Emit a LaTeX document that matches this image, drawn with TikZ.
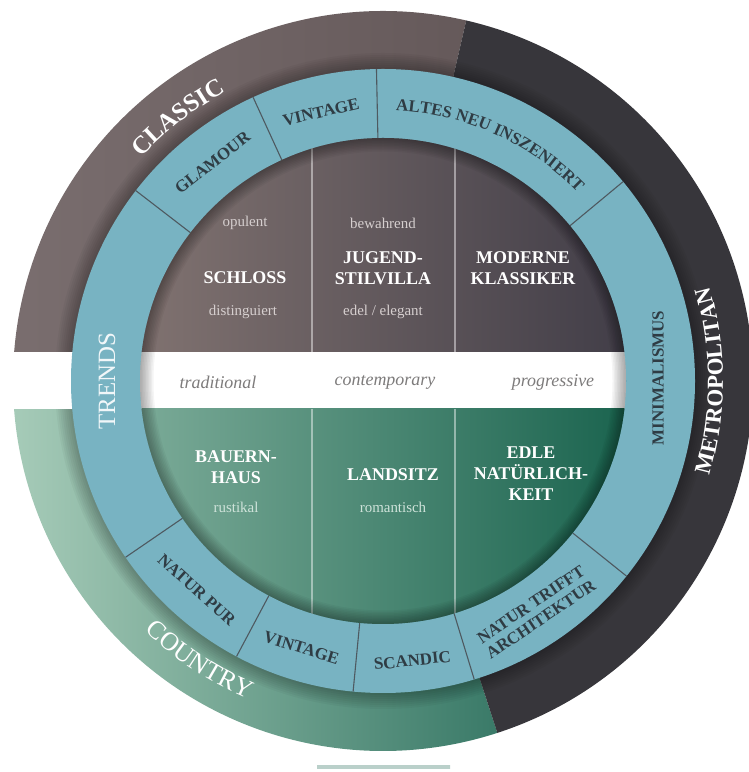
\documentclass[tikz,border=0pt]{standalone}
\usepackage{fontspec}
\setmainfont{Liberation Serif}
\usetikzlibrary{decorations.text}
\definecolor{classicbrown}{HTML}{6E6162}
\definecolor{metrodark}{HTML}{37363B}
\definecolor{trendblue}{HTML}{78B3C2}
\definecolor{countrylight}{HTML}{A6CBB8}
\definecolor{countrydark}{HTML}{3A7A68}
\definecolor{roomtopL}{HTML}{807270}
\definecolor{roomtopR}{HTML}{423E48}
\definecolor{roombotL}{HTML}{7AAA97}
\definecolor{roombotR}{HTML}{1B644F}
\definecolor{ringtext}{HTML}{2F3C44}
\definecolor{softtext}{HTML}{D6CFCF}
\definecolor{softgreen}{HTML}{CFE3DA}
\definecolor{moodgray}{HTML}{7D7B7B}

\begin{document}
\begin{tikzpicture}[x=1bp,y=1bp,
  capslabel/.style={text=white, font=\fontsize{18}{21}\selectfont\bfseries, align=center},
  lowtext/.style={text=softtext, font=\fontsize{15}{15}\selectfont},
  lowgreen/.style={text=softgreen, font=\fontsize{15}{15}\selectfont},
  mood/.style={text=moodgray, font=\fontsize{18}{18}\selectfont\itshape},
  ringlabel/.style={text=ringtext, font=\fontsize{17}{18}\selectfont\bfseries, align=center},
  trendlabel/.style={text=white!90!trendblue, font=\fontsize{25}{25}\selectfont},
  segline/.style={draw=ringtext!85, line width=1.1bp},
  colline/.style={draw=white, opacity=0.45, line width=1.3bp}]
\useasboundingbox (0,0) rectangle (749,772);
\begin{scope}[shift={(383,391)}]
  \begin{scope}
    \clip (-380,29) rectangle (380,380);
    \shade[left color=classicbrown!92!white, right color=classicbrown!92!black] (0,0) -- (77:370) arc[start angle=77, end angle=180, radius=370] -- cycle;
  \end{scope}
  \begin{scope}
    \clip (-380,-28) rectangle (380,-380);
    \shade[left color=countrylight, right color=countrydark] (0,0) -- (180:370) arc[start angle=180, end angle=288, radius=370] -- cycle;
  \end{scope}
  \fill[metrodark] (0,0) -- (-72:370) arc[start angle=-72, end angle=77, radius=370] -- cycle;
  \begin{scope}
    \clip (0,0) circle[radius=370];
    \foreach \w in {4,8,...,32}
      \draw[black, opacity=0.035, line width=\w bp] (0,0) circle[radius=312];
  \end{scope}
  \fill[white] (-380,-28) rectangle (-250,29);
  \shade[left color=countrydark!35!white, middle color=countrydark!90!white, right color=countrydark!35!white] (-66,-388) rectangle (67,-385);

  \fill[trendblue] (0,0) circle[radius=312];
  \foreach \a in {142.4,114.6,91.2,39.7,-38.7,-73,-95.5,-118,-145.6}
    \draw[segline] (\a:243) -- (\a:312);

  \begin{scope}
    \clip (0,0) circle[radius=243];
    \shade[left color=roomtopL, right color=roomtopR] (-243,29) rectangle (243,243);
    \fill[white] (-243,-28) rectangle (243,29);
    \shade[left color=roombotL, right color=roombotR] (-243,-243) rectangle (243,-28);
    \draw[colline] (-71,29) -- (-71,243);
    \draw[colline] (72,29) -- (72,243);
    \draw[colline] (-71,-28) -- (-71,-243);
    \draw[colline] (72,-28) -- (72,-243);
    \foreach \w in {3,6,...,27}
      \draw[black, opacity=0.04, line width=\w bp] (0,0) circle[radius=243];
  \end{scope}

  \node[lowtext] (opulent) at (-138,158) {opulent};
  \node[capslabel] (schloss) at (-138,103) {SCHLOSS};
  \node[lowtext] (distinguiert) at (-140,69) {distinguiert};
  \node[lowtext] (bewahrend) at (0,158) {bewahrend};
  \node[capslabel] (jugendstil) at (0,113) {JUGEND-\\STILVILLA};
  \node[lowtext] (edel) at (0,69) {edel / elegant};
  \node[capslabel] (klassiker) at (140,113) {MODERNE\\KLASSIKER};
  \node[mood] (traditional) at (-165,-1) {traditional};
  \node[mood] (contemporary) at (2,-1) {contemporary};
  \node[mood] (progressive) at (170,-1) {progressive};
  \node[capslabel] (bauernhaus) at (-147,-86) {BAUERN-\\HAUS};
  \node[lowgreen] (rustikal) at (-147,-126) {rustikal};
  \node[capslabel] (landsitz) at (10,-94) {LANDSITZ};
  \node[lowgreen] (romantisch) at (10,-126) {romantisch};
  \node[capslabel] (natuerlich) at (148,-93) {EDLE\\NATÜRLICH-\\KEIT};

  \node[trendlabel, rotate=90] (trends) at (-276,0) {TRENDS};
  \node[ringlabel, rotate=38] (glamour) at (128:277) {GLAMOUR};
  \node[ringlabel, rotate=13] (vintagetop) at (103:276) {VINTAGE};
  \node[ringlabel, rotate=90] (minimal) at (275,3) {MINIMALISMUS};
  \node[ringlabel, rotate=34] (naturtrifft) at (-56.5:277) {NATUR TRIFFT\\ARCHITEKTUR};
  \node[ringlabel, rotate=6] (scandic) at (-84:281) {SCANDIC};
  \node[ringlabel, rotate=-17] (vintagebot) at (-107:279) {VINTAGE};
  \node[ringlabel, rotate=-42] (naturpur) at (-131.7:280) {NATUR PUR};

  \path[decorate, decoration={text along path, text align=center, text color=ringtext,
    text={|\fontsize{17}{17}\selectfont\bfseries|ALTES NEU INSZENIERT}}]
    (100:271) arc[start angle=100, end angle=31.4, radius=271];
  \path[decorate, decoration={text along path, text align=center, text color=white,
    text={|\fontsize{25}{25}\selectfont\bfseries|CLASSIC}}]
    (150:329) arc[start angle=150, end angle=105.8, radius=329];
  \path[decorate, decoration={text along path, text align=center, text color=white,
    text={|\fontsize{26}{26}\selectfont|COUNTRY}}]
    (-150:345.5) arc[start angle=-150, end angle=-96.6, radius=345.5];
  \path[decorate, decoration={text along path, text align=center, text color=white,
    text={|\fontsize{23}{23}\selectfont\bfseries|METROPOLITAN}}]
    (-25:340) arc[start angle=-25, end angle=25, radius=340];
\end{scope}
\end{tikzpicture}
\end{document}
